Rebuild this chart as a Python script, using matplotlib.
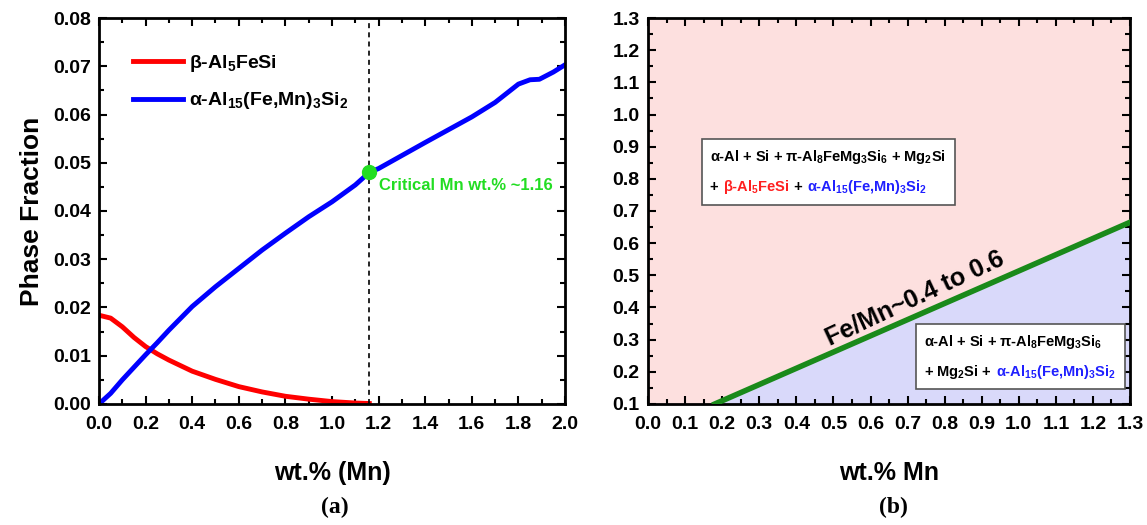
import matplotlib
matplotlib.use("Agg")
import matplotlib.pyplot as plt
from matplotlib.offsetbox import TextArea, HPacker, VPacker, AnchoredOffsetbox
from matplotlib.ticker import MultipleLocator

plt.rcParams['font.family'] = ['Liberation Sans', 'DejaVu Sans']
plt.rcParams['font.weight'] = 'bold'
plt.rcParams['mathtext.fontset'] = 'custom'
plt.rcParams['mathtext.rm'] = 'Liberation Sans:bold'
plt.rcParams['mathtext.it'] = 'Liberation Sans:bold'
plt.rcParams['mathtext.bf'] = 'Liberation Sans:bold'
plt.rcParams['mathtext.default'] = 'rm'

# ---- data (a) ----
mn_beta = [0.0, 0.05, 0.1, 0.15, 0.2, 0.25, 0.3, 0.4, 0.5, 0.6, 0.7, 0.8, 0.9, 1.0, 1.1, 1.16]
beta_frac = [0.0184, 0.0178, 0.0160, 0.0138, 0.0119, 0.0104, 0.0091, 0.0068, 0.0051, 0.0036,
             0.0025, 0.0016, 0.0010, 0.0005, 0.0002, 0.0001]
mn_alpha = [0.0, 0.05, 0.1, 0.15, 0.2, 0.25, 0.3, 0.4, 0.5, 0.6, 0.7, 0.8, 0.9, 1.0, 1.1, 1.16,
            1.2, 1.4, 1.6, 1.7, 1.8, 1.85, 1.89, 1.95, 2.0]
alpha_frac = [0.0, 0.0022, 0.0050, 0.0076, 0.0102, 0.0127, 0.0153, 0.0202, 0.0243, 0.0281,
              0.0319, 0.0354, 0.0388, 0.0419, 0.0454, 0.0480, 0.0488, 0.0542, 0.0595, 0.0625,
              0.0663, 0.0672, 0.0673, 0.0688, 0.0703]
critical_mn = 1.16
critical_frac = 0.0480

# ---- data (b) ----
boundary_mn = [0.18, 1.3]
boundary_ratio = [0.1, 0.665]

fig = plt.figure(figsize=(11.47, 5.25), dpi=100)
ax1 = fig.add_axes([0.0863, 0.2305, 0.4063, 0.7352])
ax2 = fig.add_axes([0.565, 0.2305, 0.4202, 0.7352])

tick_fs = 14
for ax in (ax1, ax2):
    ax.tick_params(which='both', direction='in', top=True, right=True, width=1.5, labelsize=tick_fs)
    ax.tick_params(which='major', length=6)
    ax.tick_params(which='minor', length=3.5)
    ax.tick_params(axis='x', which='major', pad=9)
    ax.tick_params(axis='y', which='major', pad=6)
    for s in ax.spines.values():
        s.set_linewidth(2)

# (a)
ax1.plot(mn_beta, beta_frac, color='#ff0000', lw=3.5, label='β-Al$_{5}$FeSi')
ax1.plot(mn_alpha, alpha_frac, color='#0000ff', lw=3.5, label='α-Al$_{15}$(Fe,Mn)$_{3}$Si$_{2}$')
ax1.axvline(critical_mn, color='black', lw=1.2, ls=(0, (3, 2.5)))
ax1.plot([critical_mn], [critical_frac], 'o', color='#22dd22', ms=10, zorder=5)
ax1.text(critical_mn + 0.04, critical_frac - 0.0028, 'Critical Mn wt.% ~1.16', color='#22dd22',
         fontsize=12, fontweight='bold', va='center', ha='left')
ax1.set_xlim(0, 2.0)
ax1.set_ylim(0, 0.08)
ax1.xaxis.set_major_locator(MultipleLocator(0.2))
ax1.xaxis.set_minor_locator(MultipleLocator(0.1))
ax1.yaxis.set_major_locator(MultipleLocator(0.01))
ax1.yaxis.set_minor_locator(MultipleLocator(0.005))
ax1.xaxis.set_major_formatter(plt.FuncFormatter(lambda v, p: f'{v:.1f}'))
ax1.yaxis.set_major_formatter(plt.FuncFormatter(lambda v, p: f'{v:.2f}'))
ax1.set_xlabel('wt.% (Mn)', fontsize=18, fontweight='bold', labelpad=20)
ax1.set_ylabel('Phase Fraction', fontsize=19, fontweight='bold', labelpad=6)
leg = ax1.legend(loc='upper left', frameon=False, fontsize=14, handlelength=2.6, handletextpad=0.3,
                 bbox_to_anchor=(0.035, 0.955), labelspacing=0.85)
fig.text(0.292, 0.022, '(a)', fontsize=17, fontweight='bold', family='Liberation Serif', ha='center')

# (b)
ax2.fill_between([0, 1.3], 0.1, 1.3, color='#fde0df', zorder=0)
ax2.fill_between(boundary_mn, [0.1, 0.1], boundary_ratio, color='#d9d9fa', zorder=0.5)
ax2.plot(boundary_mn, boundary_ratio, color='#1a8a1a', lw=4, zorder=3)
ax2.text(0.72, 0.43, 'Fe/Mn~0.4 to 0.6', fontsize=18, fontweight='bold', rotation=25,
         ha='center', va='center', rotation_mode='anchor')
ax2.set_xlim(0, 1.3)
ax2.set_ylim(0.1, 1.3)
ax2.xaxis.set_major_locator(MultipleLocator(0.1))
ax2.xaxis.set_minor_locator(MultipleLocator(0.05))
ax2.yaxis.set_major_locator(MultipleLocator(0.1))
ax2.yaxis.set_minor_locator(MultipleLocator(0.05))
ax2.xaxis.set_major_formatter(plt.FuncFormatter(lambda v, p: f'{v:.1f}'))
ax2.yaxis.set_major_formatter(plt.FuncFormatter(lambda v, p: f'{v:.1f}'))
ax2.set_xlabel('wt.% Mn', fontsize=18, fontweight='bold', labelpad=20)
fig.text(0.779, 0.022, '(b)', fontsize=17, fontweight='bold', family='Liberation Serif', ha='center')

box_fs = 10.5

def ta(s, c='black'):
    return TextArea(s, textprops=dict(color=c, fontsize=box_fs, fontweight='bold'))

line1 = HPacker(children=[ta('α-Al + Si + π-Al$_{8}$FeMg$_{3}$Si$_{6}$ + Mg$_{2}$Si')], pad=0, sep=0)
line2 = HPacker(children=[ta('+ '), ta('β-Al$_{5}$FeSi', '#ff2020'), ta(' + '),
                          ta('α-Al$_{15}$(Fe,Mn)$_{3}$Si$_{2}$', '#2020ff')], pad=0, sep=0)
vp1 = VPacker(children=[line1, line2], pad=0, sep=9, align='left')
ab1 = AnchoredOffsetbox(loc='center', child=vp1, pad=0.6, frameon=True,
                        bbox_to_anchor=(0.374, 0.601), bbox_transform=ax2.transAxes, borderpad=0)
ab1.patch.set_edgecolor('#555555')
ab1.patch.set_linewidth(1.2)
ab1.patch.set_boxstyle('square', pad=0)
ax2.add_artist(ab1)

line3 = HPacker(children=[ta('α-Al + Si + π-Al$_{8}$FeMg$_{3}$Si$_{6}$')], pad=0, sep=0)
line4 = HPacker(children=[ta('+ Mg$_{2}$Si +  '), ta('α-Al$_{15}$(Fe,Mn)$_{3}$Si$_{2}$', '#2020ff')],
                pad=0, sep=0)
vp2 = VPacker(children=[line3, line4], pad=0, sep=9, align='left')
ab2 = AnchoredOffsetbox(loc='center', child=vp2, pad=0.6, frameon=True,
                        bbox_to_anchor=(0.772, 0.122), bbox_transform=ax2.transAxes, borderpad=0)
ab2.patch.set_edgecolor('#555555')
ab2.patch.set_linewidth(1.2)
ab2.patch.set_boxstyle('square', pad=0)
ax2.add_artist(ab2)

fig.savefig('out.png', dpi=100)
